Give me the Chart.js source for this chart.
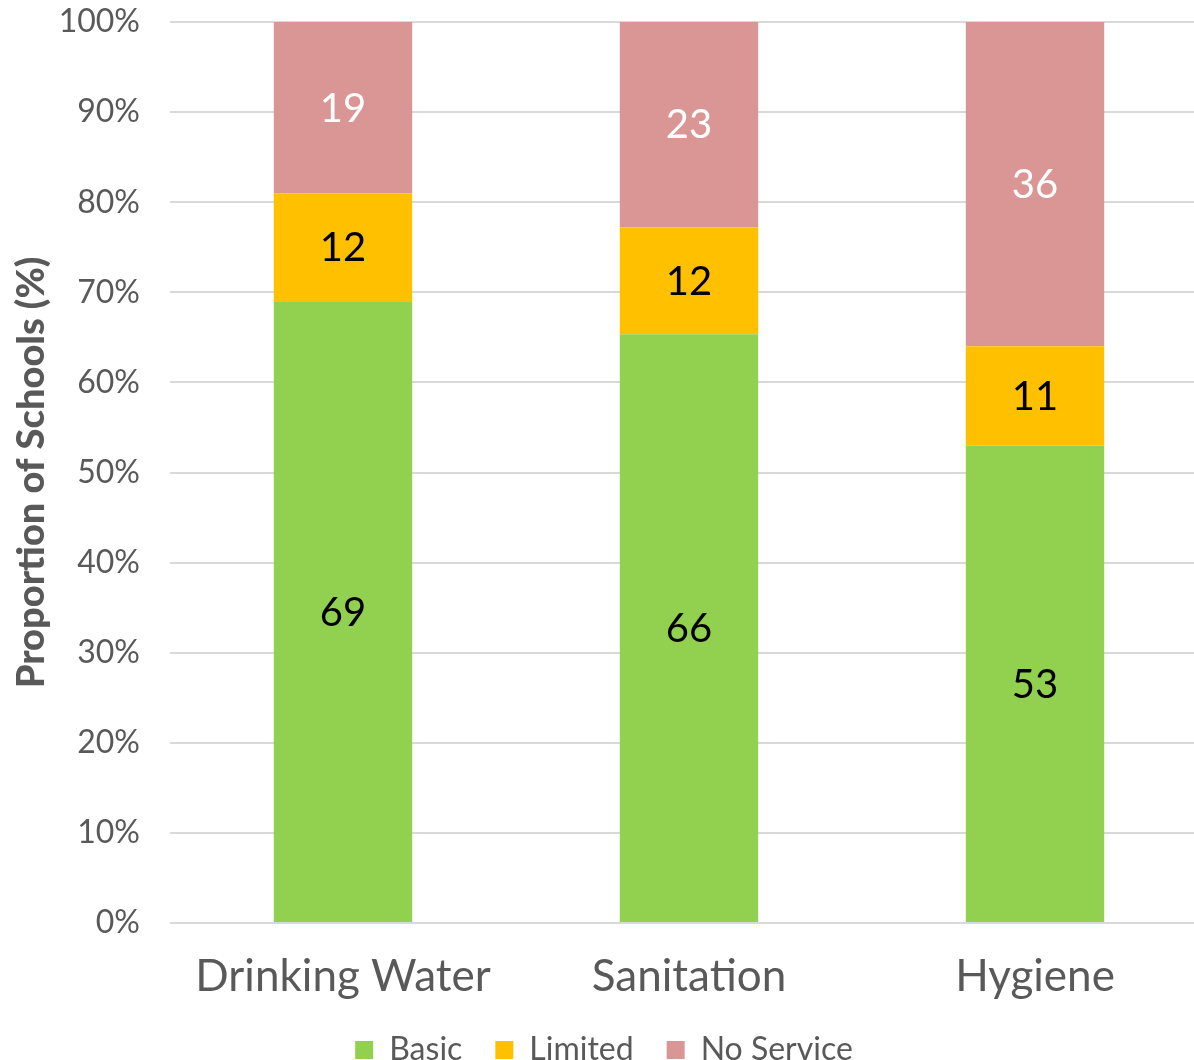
<!DOCTYPE html>
<html>
<head>
<meta charset="utf-8">
<script src="https://cdn.jsdelivr.net/npm/chart.js@4/dist/chart.umd.min.js"></script>
<style>
  html, body { margin: 0; padding: 0; overflow: hidden; background: #fff; }
  #wrap { width: 1208px; height: 1060px; }
</style>
</head>
<body>
<div id="wrap"><canvas id="c" width="1208" height="1060"></canvas></div>
<script>
const categories = ['Drinking Water', 'Sanitation', 'Hygiene'];
const basic = [69, 66, 53];
const limited = [12, 12, 11];
const noService = [19, 23, 36];
const seriesNames = ['Basic', 'Limited', 'No Service'];
const yTicks = [0, 10, 20, 30, 40, 50, 60, 70, 80, 90, 100];

const raw = [basic, limited, noService];
const totals = categories.map((_, i) => basic[i] + limited[i] + noService[i]);
const pct = raw.map(arr => arr.map((v, i) => v / totals[i] * 100));

const colors = ['#92d050', '#ffc000', '#da9694'];
const labelColors = ['#000000', '#000000', '#ffffff'];
const FONT = 'Lato, "Open Sans", sans-serif';
const GREY = '#595959';

const dataLabels = {
  id: 'dataLabels',
  afterDatasetsDraw(chart) {
    const ctx = chart.ctx;
    ctx.save();
    ctx.font = '40px ' + FONT;
    ctx.textAlign = 'center';
    ctx.textBaseline = 'middle';
    chart.data.datasets.forEach((ds, di) => {
      const meta = chart.getDatasetMeta(di);
      meta.data.forEach((el, i) => {
        const p = el.getProps(['x', 'y', 'base'], true);
        ctx.fillStyle = labelColors[di];
        ctx.fillText(String(raw[di][i]), p.x, (p.y + p.base) / 2 + 1);
      });
    });
    ctx.restore();
  }
};

new Chart(document.getElementById('c'), {
  type: 'bar',
  data: {
    labels: categories,
    datasets: seriesNames.map((n, di) => ({
      label: n,
      data: pct[di],
      backgroundColor: colors[di],
      borderWidth: 0,
      categoryPercentage: 1.0,
      barPercentage: 0.4
    }))
  },
  options: {
    responsive: false,
    animation: false,
    layout: { padding: { top: 22, left: 0, right: 0, bottom: -16 } },
    plugins: {
      legend: {
        position: 'bottom',
        labels: {
          font: { family: FONT, size: 32 },
          color: GREY,
          boxWidth: 18,
          boxHeight: 18,
          padding: 33
        }
      },
      tooltip: { enabled: false }
    },
    scales: {
      x: {
        stacked: true,
        grid: { display: false },
        border: { display: false },
        ticks: { font: { family: FONT, size: 44 }, color: GREY, padding: 19 },
        afterFit(s) { s.height = 78; s.paddingLeft = 0; s.paddingRight = 0; }
      },
      y: {
        stacked: true,
        min: 0,
        max: 100,
        afterBuildTicks(s) { s.ticks = yTicks.map(v => ({ value: v })); },
        ticks: {
          font: { family: FONT, size: 32 },
          color: GREY,
          padding: 30,
          callback: v => v + '%'
        },
        grid: { color: '#d9d9d9', lineWidth: 2, drawTicks: false },
        border: { display: false },
        title: {
          display: true,
          text: 'Proportion of Schools (%)',
          font: { family: FONT, size: 38, weight: '900' },
          color: GREY,
          padding: { top: 9, bottom: 0 }
        },
        afterFit(s) { s.width = 170; s.paddingTop = 0; s.paddingBottom = 0; }
      }
    }
  },
  plugins: [dataLabels]
});
</script>
</body>
</html>
